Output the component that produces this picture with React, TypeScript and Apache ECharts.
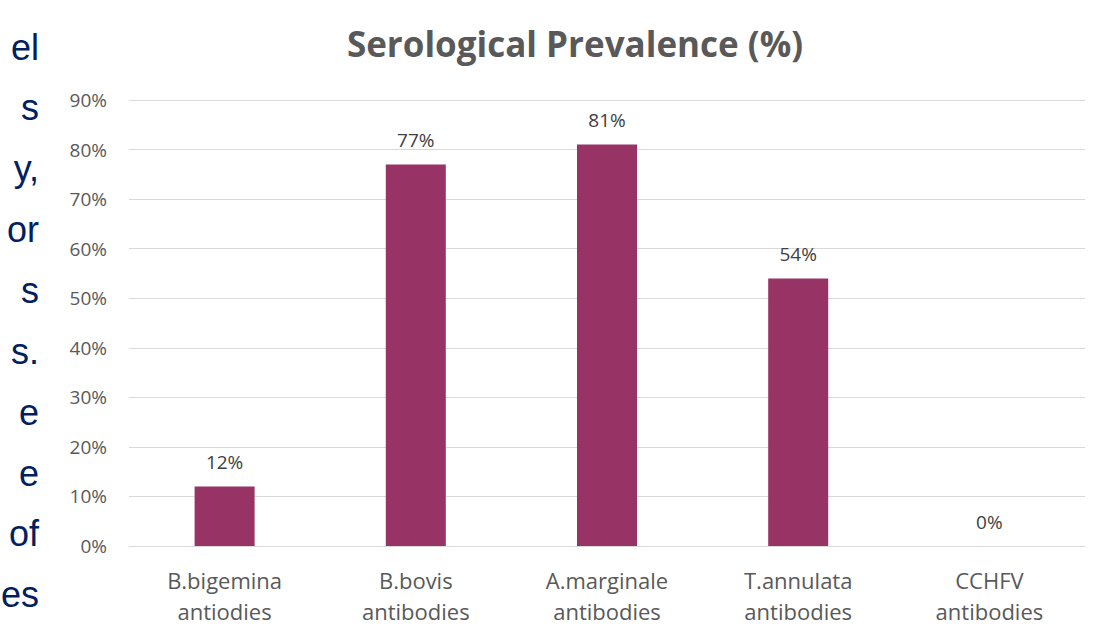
import React, { useEffect, useRef } from "react";
import * as echarts from "echarts";

const categories = [
  "B.bigemina\nantiodies",
  "B.bovis\nantibodies",
  "A.marginale\nantibodies",
  "T.annulata\nantibodies",
  "CCHFV\nantibodies",
];
const prevalence = [12, 77, 81, 54, 0];
const titleText = "Serological Prevalence (%)";
const sideFragments = ["el", "s", "y,", "or", "s", "s.", "e", "e", "of", "es"];
const sideLineY = [47, 107, 168, 229, 290, 351, 412, 473, 533, 594];

export default function App() {
  const ref = useRef<HTMLDivElement>(null);
  useEffect(() => {
    if (!ref.current) return;
    const chart = echarts.init(ref.current, undefined, { renderer: "svg" });
    const font = "'Open Sans', 'Noto Sans', sans-serif";
    chart.setOption({
      animation: false,
      backgroundColor: "#ffffff",
      title: {
        text: titleText,
        left: 570,
        textAlign: "center",
        top: 21,
        textStyle: {
          fontFamily: font,
          fontWeight: "bold",
          fontSize: 35,
          color: "#595959",
        },
      },
      grid: { left: 129, right: 33, top: 100, bottom: 84, containLabel: false },
      xAxis: {
        type: "category",
        data: categories,
        axisLine: { show: true, lineStyle: { color: "#d9d9d9", width: 1 } },
        axisTick: { show: false },
        axisLabel: {
          fontFamily: font,
          fontSize: 22,
          color: "#595959",
          lineHeight: 31,
          margin: 18,
          interval: 0,
        },
      },
      yAxis: {
        type: "value",
        min: 0,
        max: 90,
        interval: 10,
        axisLine: { show: false },
        axisTick: { show: false },
        splitLine: { lineStyle: { color: "#d9d9d9", width: 1 } },
        axisLabel: {
          formatter: "{value}%",
          fontFamily: font,
          fontSize: 19,
          color: "#595959",
          margin: 22,
        },
      },
      series: [
        {
          type: "bar",
          data: prevalence,
          barWidth: 60,
          itemStyle: { color: "#983365" },
          label: {
            show: true,
            position: "top",
            formatter: "{c}%",
            fontFamily: font,
            fontSize: 19,
            color: "#404040",
            distance: 15,
          },
        },
      ],
      graphic: sideFragments.map((t, i) => ({
        type: "text",
        x: 39,
        y: sideLineY[i],
        style: {
          text: t,
          textAlign: "right",
          textVerticalAlign: "middle",
          fontFamily: "'Liberation Sans', Arial, sans-serif",
          fontSize: 36,
          fill: "#002060",
        },
      })),
    });
    return () => chart.dispose();
  }, []);
  return (
    <div
      ref={ref}
      style={{ position: "absolute", left: 0, top: 0, width: 1118, height: 630 }}
    />
  );
}
